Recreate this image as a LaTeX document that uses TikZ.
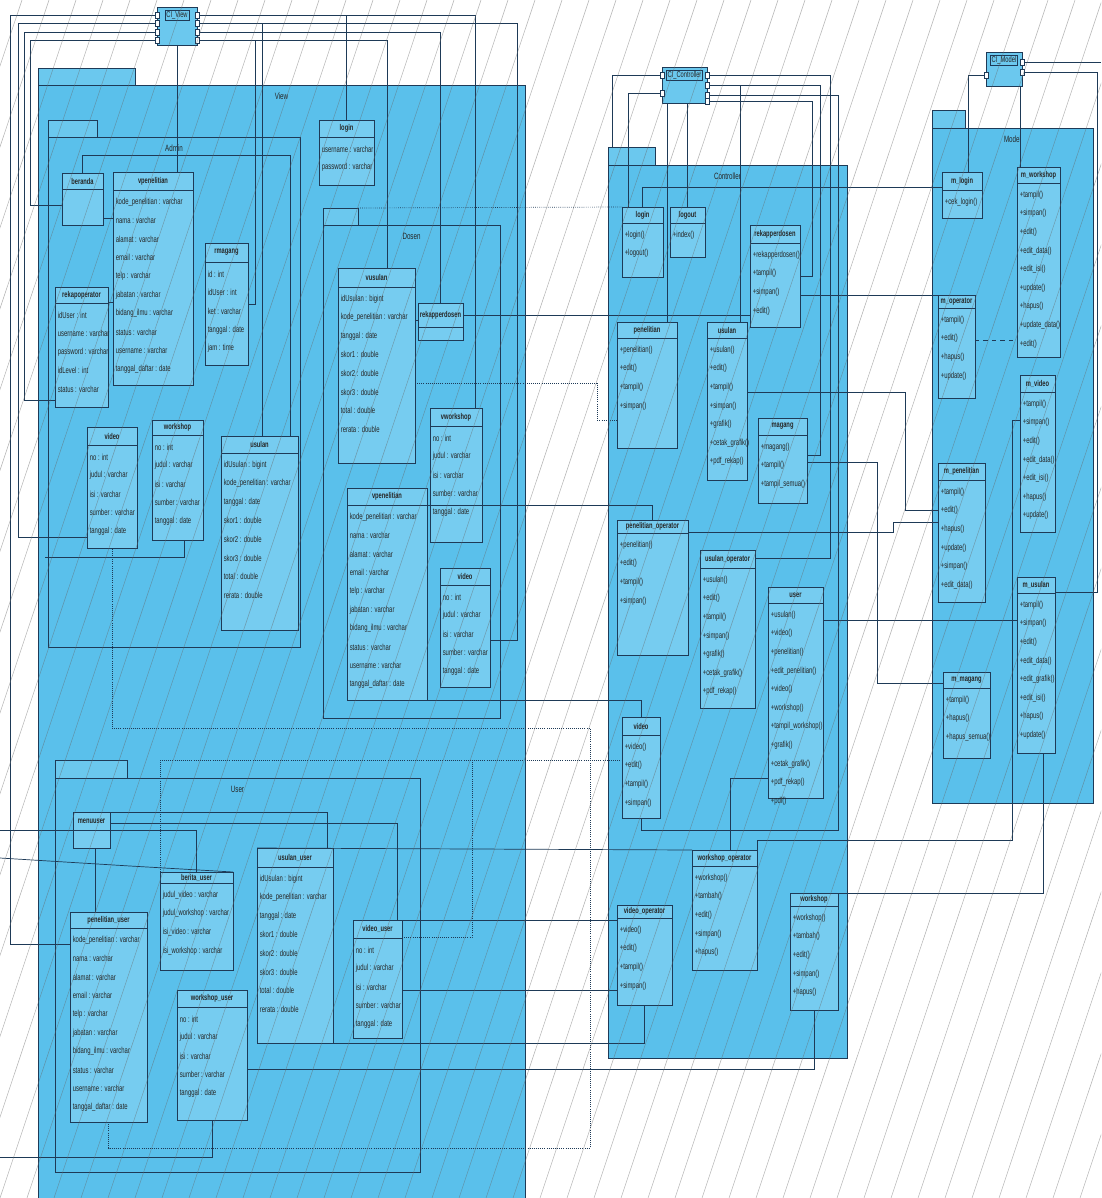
\documentclass[tikz,border=0pt]{standalone}
\usepackage{fontspec}
\newfontfamily\umlfont[FakeStretch=0.68]{Liberation Sans}
\usetikzlibrary{calc}
\definecolor{PkgBlue}{HTML}{5AC0EB}
\definecolor{ClsBlue}{HTML}{76CCF0}
\definecolor{TabBlue}{HTML}{6BC8EE}
\definecolor{WireNavy}{HTML}{1E3A57}
\def\px{0.025cm}

% class box: name, x, y, width, height, header height, title, rows
\newcommand{\klass}[8]{%
  \node[klassbox, minimum width=#4*\px, minimum height=#5*\px] (#1) at (#2+#4/2,#3+#5/2) {};
  \draw[klassline] ($(#1.north west)+(0,#6)$) -- ($(#1.north east)+(0,#6)$);
  \node[klasstitle] at ($(#1.north)+(0,#6/2)$) {#7};
  \foreach \r [count=\i from 0] in {#8}
    \node[klassrow] at ($(#1.north west)+(2.5,#6+12+\i*18.6)$) {\r};
}
% package: name, x, y, width, height, tab width, tab height, label
\newcommand{\pkg}[8]{%
  \node[pkgtab, minimum width=#6*\px, minimum height=#7*\px] (#1tab) at (#2+#6/2,#3-#7/2) {};
  \node[pkgbody, minimum width=#4*\px, minimum height=#5*\px] (#1) at (#2+#4/2,#3+#5/2) {};
  \node[pkglabel] at ($(#1.north)+(0,11)$) {#8};
}
% component: name, x, y, width, height, label
\newcommand{\comp}[6]{%
  \node[compbox, minimum width=#4*\px, minimum height=#5*\px] (#1) at (#2+#4/2,#3+#5/2) {};
  \node[comptitle] at ($(#1.north)+(0,8)$) {#6};
}

\begin{document}
\begin{tikzpicture}[
  x=0.025cm, y=-0.025cm,
  klassbox/.style={draw=WireNavy, fill=ClsBlue, line width=0.5pt, inner sep=0pt, outer sep=0pt},
  klassline/.style={WireNavy, line width=0.5pt},
  klasstitle/.style={font=\umlfont\bfseries\fontsize{6}{7}\selectfont, text=black!85, inner sep=0pt},
  klassrow/.style={anchor=west, font=\umlfont\fontsize{6.2}{7}\selectfont, text=black!85, inner sep=0pt},
  comptitle/.style={font=\umlfont\fontsize{6}{7}\selectfont, text=black!85, draw=WireNavy, line width=0.3pt, inner sep=0.8pt},
  pkgbody/.style={draw=WireNavy, fill=PkgBlue, line width=0.6pt, inner sep=0pt, outer sep=0pt},
  pkgtab/.style={draw=WireNavy, fill=TabBlue, line width=0.6pt, inner sep=0pt, outer sep=0pt},
  pkglabel/.style={font=\umlfont\fontsize{6.5}{7}\selectfont, text=black!85},
  compbox/.style={draw=WireNavy, fill=TabBlue, line width=0.6pt, inner sep=0pt, outer sep=0pt},
  port/.style={draw=WireNavy, fill=white, line width=0.3pt, minimum width=4*\px, minimum height=6*\px, inner sep=0pt, outer sep=0pt},
  wire/.style={WireNavy, line width=0.5pt},
  dep/.style={WireNavy, line width=0.5pt, densely dotted},
  hatchline/.style={black!60, line width=0.35pt, opacity=0.5}
]
\useasboundingbox (0,0) rectangle (1101,1198);
\clip (0,0) rectangle (1101,1198);
\fill[white] (0,0) rectangle (1101,1198);

% packages
\pkg{view}{38}{85}{487}{1120}{97}{17}{View}
\pkg{admin}{48}{137}{252}{510}{49}{17}{Admin}
\pkg{dosen}{323}{225}{177}{493}{35}{17}{Dosen}
\pkg{user}{55}{778}{365}{394}{72}{18}{User}
\pkg{ctrl}{608}{165}{239}{893}{47}{18}{Controller}
\pkg{model}{932}{128}{161}{675}{33}{18}{Model}

% components and ports
\comp{civ}{157}{7}{40}{38}{CI\_View}
\comp{cic}{662}{67}{45}{36}{CI\_Controller}
\comp{cim}{986}{52}{36}{34}{CI\_Model}
\foreach \p/\yy in {1/15,2/23,3/32,4/40} {
  \node[port] (civL\p) at (157,\yy) {};
  \node[port] (civR\p) at (197,\yy) {};
}
\node[port] (cicL1) at (662,75) {};
\node[port] (cicL2) at (662,93) {};
\foreach \p/\yy in {1/75,2/85,3/95,4/101} \node[port] (cicR\p) at (707,\yy) {};
\node[port] (cimL1) at (986,75) {};
\node[port] (cimR1) at (1022,62) {};
\node[port] (cimR2) at (1022,72) {};

% View / Admin
\klass{berandaA}{62}{173}{41}{52}{16}{beranda}{}
\klass{vpenA}{113}{172}{80}{213}{18}{vpenelitian}{kode\_penelitian : varchar,nama : varchar,alamat : varchar,email : varchar,telp : varchar,jabatan : varchar,bidang\_ilmu : varchar,status : varchar,username : varchar,tanggal\_daftar : date}
\klass{rekapA}{55}{287}{53}{120}{16}{rekapoperator}{idUser : int,username : varchar,password : varchar,idLevel : int,status : varchar}
\klass{rmagangA}{205}{243}{43}{122}{19}{rmagang}{id : int,idUser : int,ket : varchar,tanggal : date,jam : time}
\klass{videoA}{87}{427}{50}{121}{18}{video}{no : int,judul : varchar,isi : varchar,sumber : varchar,tanggal : date}
\klass{workshopA}{152}{420}{51}{120}{15}{workshop}{no : int,judul : varchar,isi : varchar,sumber : varchar,tanggal : date}
\klass{usulanA}{221}{436}{77}{194}{17}{usulan}{idUsulan : bigint,kode\_penelitian : varchar,tanggal : date,skor1 : double,skor2 : double,skor3 : double,total : double,rerata : double}
\klass{loginV}{319}{120}{55}{65}{17}{login}{username : varchar,password : varchar}

% View / Dosen
\klass{vusulanD}{338}{268}{77}{195}{19}{vusulan}{idUsulan : bigint,kode\_penelitian : varchar,tanggal : date,skor1 : double,skor2 : double,skor3 : double,total : double,rerata : double}
\klass{rekapD}{418}{303}{45}{37}{24}{rekapperdosen}{}
\klass{vworkD}{430}{408}{52}{134}{18}{vworkshop}{no : int,judul : varchar,isi : varchar,sumber : varchar,tanggal : date}
\klass{vpenD}{347}{488}{80}{212}{17}{vpenelitian}{kode\_penelitian : varchar,nama : varchar,alamat : varchar,email : varchar,telp : varchar,jabatan : varchar,bidang\_ilmu : varchar,status : varchar,username : varchar,tanggal\_daftar : date}
\klass{videoD}{440}{568}{50}{119}{17}{video}{no : int,judul : varchar,isi : varchar,sumber : varchar,tanggal : date}

% View / User
\klass{menuuser}{73}{812}{37}{36}{18}{menuuser}{}
\klass{penuser}{70}{912}{77}{210}{16}{penelitian\_user}{kode\_penelitian : varchar,nama : varchar,alamat : varchar,email : varchar,telp : varchar,jabatan : varchar,bidang\_ilmu : varchar,status : varchar,username : varchar,tanggal\_daftar : date}
\klass{beritauser}{160}{872}{73}{98}{11}{berita\_user}{judul\_video : varchar,judul\_workshop : varchar,isi\_video : varchar,isi\_workshop : varchar}
\klass{workuser}{177}{990}{70}{130}{17}{workshop\_user}{no : int,judul : varchar,isi : varchar,sumber : varchar,tanggal : date}
\klass{usulanuser}{257}{848}{76}{195}{19}{usulan\_user}{idUsulan : bigint,kode\_penelitian : varchar,tanggal : date,skor1 : double,skor2 : double,skor3 : double,total : double,rerata : double}
\klass{videouser}{353}{920}{49}{118}{18}{video\_user}{no : int,judul : varchar,isi : varchar,sumber : varchar,tanggal : date}

% Controller
\klass{loginC}{622}{207}{41}{70}{16}{login}{+login(),+logout()}
\klass{logoutC}{670}{207}{35}{50}{16}{logout}{+index()}
\klass{rekapC}{750}{225}{50}{102}{18}{rekapperdosen}{+rekapperdosen(),+tampil(),+simpan(),+edit()}
\klass{penC}{617}{322}{60}{126}{16}{penelitian}{+penelitian(),+edit(),+tampil(),+simpan()}
\klass{usulanC}{707}{322}{40}{158}{16}{usulan}{+usulan(),+edit(),+tampil(),+simpan(),+grafik(),+cetak\_grafik(),+pdf\_rekap()}
\klass{magangC}{758}{418}{49}{85}{17}{magang}{+magang(),+tampil(),+tampil\_semua()}
\klass{penopC}{617}{520}{71}{135}{13}{penelitian\_operator}{+penelitian(),+edit(),+tampil(),+simpan()}
\klass{usopC}{700}{550}{55}{158}{18}{usulan\_operator}{+usulan(),+edit(),+tampil(),+simpan(),+grafik(),+cetak\_grafik(),+pdf\_rekap()}
\klass{userC}{768}{587}{55}{211}{16}{user}{+usulan(),+video(),+penelitian(),+edit\_penelitian(),+video(),+workshop(),+tampil\_workshop(),+grafik(),+cetak\_grafik(),+pdf\_rekap(),+pdf()}
\klass{videoC}{622}{717}{38}{101}{18}{video}{+video(),+edit(),+tampil(),+simpan()}
\klass{workopC}{692}{850}{65}{120}{16}{workshop\_operator}{+workshop(),+tambah(),+edit(),+simpan(),+hapus()}
\klass{videoopC}{617}{905}{55}{100}{13}{video\_operator}{+video(),+edit(),+tampil(),+simpan()}
\klass{workC}{790}{893}{48}{117}{13}{workshop}{+workshop(),+tambah(),+edit(),+simpan(),+hapus()}

% Model
\klass{mlogin}{942}{172}{40}{46}{18}{m\_login}{+cek\_login()}
\klass{mwork}{1017}{167}{43}{190}{16}{m\_workshop}{+tampil(),+simpan(),+edit(),+edit\_data(),+edit\_isi(),+update(),+hapus(),+update\_data(),+edit()}
\klass{mop}{938}{295}{37}{103}{13}{m\_operator}{+tampil(),+edit(),+hapus(),+update()}
\klass{mvideo}{1020}{375}{35}{157}{17}{m\_video}{+tampil(),+simpan(),+edit(),+edit\_data(),+edit\_isi(),+hapus(),+update()}
\klass{mpen}{938}{463}{47}{139}{17}{m\_penelitian}{+tampil(),+edit(),+hapus(),+update(),+simpan(),+edit\_data()}
\klass{musul}{1017}{577}{38}{176}{16}{m\_usulan}{+tampil(),+simpan(),+edit(),+edit\_data(),+edit\_grafik(),+edit\_isi(),+hapus(),+update()}
\klass{mmagang}{943}{672}{47}{86}{16}{m\_magang}{+tampil(),+hapus(),+hapus\_semua()}

% free ends and junctions
\coordinate (jLogin) at (346,15);
\coordinate (jUsul) at (262,23);
\coordinate (jMag) at (255,40);
\coordinate (edgeA) at (0,830);
\coordinate (edgeB) at (0,858);
\coordinate (edgeC) at (0,1157);
\coordinate (edgeR) at (1101,62);
\coordinate (adminL) at (45,557);

% CI_View wiring
\draw[wire] (civL1.west) -| (10,944) -- (penuser.west |- 0,944);
\draw[wire] (civL2.west) -| (18,537) -- (videoA.west |- 0,537);
\draw[wire] (civL3.west) -| (24,400) -- (rekapA.west |- 0,400);
\draw[wire] (civL4.west) -| (30,205) -- (berandaA.west |- 0,205);
\draw[wire] (civR1.east) -| (vworkD.north -| 475,0);
\draw[wire] (civR2.east) -| (517,640) -- (videoD.east |- 0,640);
\draw[wire] (civR3.east) -| (rekapD.north);
\draw[wire] (civR4.east) -| (vusulanD.north -| 387,0);
\draw[wire] (civ.south) -- (vpenA.north -| civ.south);
\draw[wire] (jLogin) -- (loginV.north -| jLogin);
\draw[wire] (jUsul) -- (usulanA.north -| jUsul);
\draw[wire] (jMag) |- (rmagangA.east);

% Admin
\draw[wire] (berandaA.east |- 0,218) -- (vpenA.west |- 0,218);
\draw[wire] (rekapA.east |- 0,302) -- (vpenA.west |- 0,302);
\draw[wire] (berandaA.north) |- (290,155) -- (usulanA.north -| 290,0);
\draw[wire] (workshopA.south -| 184,0) |- (adminL);

% Dosen
\draw[wire] (vusulanD.east |- 0,320) -- (rekapD.west |- 0,320);
\draw[dep] (vusulanD.east |- 0,383) -| (597,420) -- (penC.west |- 0,420);
\draw[wire] (rekapD.east |- 0,315) -- (rekapC.west |- 0,315);
\draw[wire] (vpenD.east |- 0,505) -| (penopC.north);
\draw[wire] (vpenD.south west) -| (videoC.north);
\draw[dep] (dosentab.north east) -- (loginC.north west);

% User
\draw[wire] (menuuser.north east) -| (usulanuser.north -| 327,0);
\draw[wire] (menuuser.east |- 0,823) -| (videouser.north -| 397,0);
\draw[wire] (menuuser.east) -| (beritauser.north);
\draw[wire] (menuuser.south -| 95,0) -- (penuser.north -| 95,0);
\draw[wire] (edgeA) -- (menuuser.west);
\draw[wire] (edgeB) -- (130,866) -- (beritauser.north east);
\draw[wire] (edgeC) -| (workuser.south);
\draw[wire] (usulanuser.north west) -- (workopC.north west);
\draw[wire] (videouser.north east) -- (videoopC.west |- 0,920);
\draw[wire] (videouser.east |- 0,990) -- (videoopC.west |- 0,990);
\draw[wire] (usulanuser.south east) -| (videoopC.south);
\draw[wire] (workuser.east |- 0,1069) -| (workC.south);
\draw[dep] (penuser.south) |- (590,1148) -- (590,728) -| (videoA.south);
\draw[dep] (videouser.east |- 0,937) -| (472,760) -- (videoC.west |- 0,760);
\draw[dep] (beritauser.north west) |- (472,760);

% CI_Controller wiring
\draw[wire] (cicL1.west) -| (ctrltab.north -| 612,0);
\draw[wire] (cicL2.west) -| (loginC.north -| 628,0);
\draw[wire] (cic.south -| 667,0) -- (penC.north -| 667,0);
\draw[wire] (cic.south -| logoutC.north) -- (logoutC.north);
\draw[wire] (cicR1.east) -| (830,558) -- (usopC.east |- 0,558);
\draw[wire] (cicR2.east) -| (820,455) -- (magangC.east |- 0,455);
\draw[wire] (cicR2.east) -| (usulanC.north -| 740,0);
\draw[wire] (cicR3.east) -| (838,830) -| (videoC.south);
\draw[wire] (cicR4.east) -| (812,276) -- (rekapC.east);
\draw[wire] (userC.west |- 0,778) -| (workopC.north -| 730,0);

% Controller to Model
\draw[wire] (mlogin.160) -| (loginC.north);
\draw[wire] (mop.north west) -- (rekapC.east |- mop.north west);
\draw[wire] (usulanC.east |- 0,392) -| (905,510) -- (mpen.west |- 0,510);
\draw[wire] (penopC.east |- 0,532) -- (893,532) |- (mpen.west |- 0,522);
\draw[wire] (userC.east |- 0,620) -- (musul.west |- 0,620);
\draw[wire] (magangC.east |- 0,462) -| (877,683) -- (mmagang.west |- 0,683);
\draw[wire] (mvideo.west |- 0,420) -| (1012,840) -| (workopC.north east);
\draw[wire] (musul.south -| 1043,0) |- (workC.north east);

% CI_Model wiring
\draw[wire] (cimL1.west) -| (mlogin.north -| 968,0);
\draw[wire] (cim.south -| 1020,0) -- (mwork.north -| 1020,0);
\draw[wire] (cimR1.east) -- (edgeR);
\draw[wire] (cimR2.east) -| (1097,592) -- (musul.east |- 0,592);
\draw[wire, dashed] (mop.east |- 0,340) -- (mwork.west |- 0,340);

% background hatching
\foreach \k in {-16,...,42}
  \draw[hatchline] (\k*27,1198) -- (\k*27+400,0);
\end{tikzpicture}
\end{document}
